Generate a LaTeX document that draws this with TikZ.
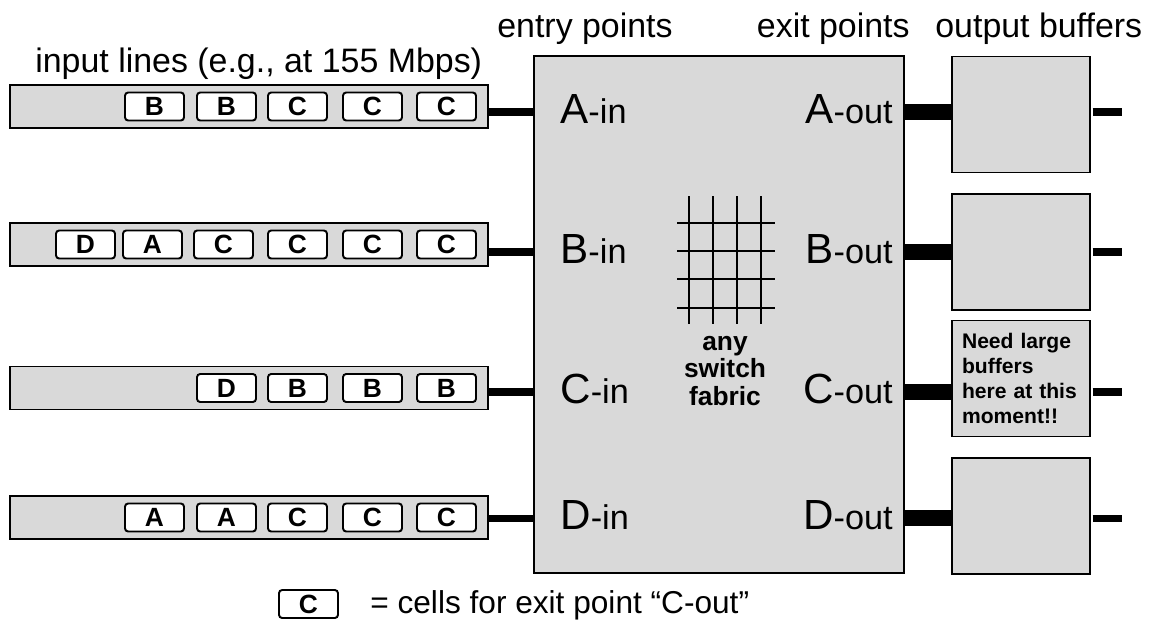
\documentclass[tikz,border=0pt]{standalone}
\usepackage{fontspec}
\setmainfont{Liberation Sans}
\definecolor{boxgray}{HTML}{D9D9D9}
\newcommand{\portname}[2]{{\fontsize{24}{24}\selectfont #1}{\fontsize{19.5}{19.5}\selectfont -#2}}
\tikzset{
  every picture/.style={line join=miter},
  linebar/.style={draw, line width=1pt, fill=boxgray, minimum width=9.56cm, minimum height=0.86cm, inner sep=0},
  cell/.style={draw, line width=1.1pt, fill=white, rounded corners=1.8pt, minimum width=1.18cm, minimum height=0.56cm, inner sep=0, font=\fontsize{15}{15}\selectfont\bfseries},
  outbuf/.style={draw, line width=1pt, fill=boxgray, minimum width=2.76cm, minimum height=2.32cm},
  heading/.style={anchor=base west, inner sep=0, font=\fontsize{19.3}{19.3}\selectfont},
  inport/.style={anchor=base west, inner sep=0},
  outport/.style={anchor=base east, inner sep=0},
  instub/.style={line width=4pt},
  outstub/.style={line width=9pt},
  gridline/.style={line width=1.2pt},
}

\begin{document}
\begin{tikzpicture}[x=0.02cm,y=-0.02cm]
\useasboundingbox (0,0) rectangle (1155,623);
% headings
\node[heading] (hdinput) at (35,72) {input lines (e.g., at 155 Mbps)};
\node[heading] (hdentry) at (497,37) {entry points};
\node[heading, anchor=base east] (hdexit) at (910,37) {exit points};
\node[heading] (hdoutput) at (935,37) {output buffers};
% row levels
\coordinate (rowA) at (0,112);
\coordinate (rowB) at (0,252);
\coordinate (rowC) at (0,392);
\coordinate (rowD) at (0,518);
% input lines
\node[linebar] (inA) at (249,106.5) {};
\node[linebar] (inB) at (249,244.5) {};
\node[linebar] (inC) at (249,388) {};
\node[linebar] (inD) at (249,517.5) {};
\foreach \x/\t [count=\i] in {125/B,197/B,268/C,343/C,417/C}
  \node[cell] (cA\i) at (\x+29.5,106.5) {\t};
\foreach \x/\t [count=\i] in {56/D,123/A,194/C,268/C,343/C,417/C}
  \node[cell] (cB\i) at (\x+29.5,244.5) {\t};
\foreach \x/\t [count=\i] in {197/D,268/B,343/B,417/B}
  \node[cell] (cC\i) at (\x+29.5,388) {\t};
\foreach \x/\t [count=\i] in {125/A,197/A,268/C,343/C,417/C}
  \node[cell] (cD\i) at (\x+29.5,517.5) {\t};
% switch fabric
\node[draw, line width=1pt, fill=boxgray, minimum width=7.4cm, minimum height=10.34cm] (fabric) at (719,314.5) {};
\foreach \x in {689,713,737,761}
  \draw[gridline] (\x,196) -- (\x,324);
\foreach \y in {223,251,279,308}
  \draw[gridline] (677,\y) -- (775,\y);
\node[align=center, font=\fontsize{15}{15.9}\selectfont\bfseries] (fabtext) at (725,371) {any\\switch\\fabric};
% output buffers
\node[outbuf] (bufA) at (1021,114.5) {};
\node[outbuf] (bufB) at (1021,252) {};
\node[outbuf, text width=2.36cm, inner sep=0.2cm, align=left, font=\fontsize{12}{14.2}\selectfont\bfseries] (bufC) at (1021,378.5) {Need large\\buffers\\here at this\\moment!!};
\node[outbuf] (bufD) at (1021,516) {};
\coordinate (endA) at (1122,112);
\coordinate (endB) at (1122,252);
\coordinate (endC) at (1122,392);
\coordinate (endD) at (1122,518);
% stubs
\draw[instub] (inA.east |- rowA) -- (fabric.west |- rowA);
\draw[instub] (inB.east |- rowB) -- (fabric.west |- rowB);
\draw[instub] (inC.east |- rowC) -- (fabric.west |- rowC);
\draw[instub] (inD.east |- rowD) -- (fabric.west |- rowD);
\draw[outstub] (fabric.east |- rowA) -- (bufA.west |- rowA);
\draw[outstub] (fabric.east |- rowB) -- (bufB.west |- rowB);
\draw[outstub] (fabric.east |- rowC) -- (bufC.west |- rowC);
\draw[outstub] (fabric.east |- rowD) -- (bufD.west |- rowD);
\draw[instub, shorten <=1pt] (bufA.east |- rowA) -- (endA);
\draw[instub, shorten <=1pt] (bufB.east |- rowB) -- (endB);
\draw[instub, shorten <=1pt] (bufC.east |- rowC) -- (endC);
\draw[instub, shorten <=1pt] (bufD.east |- rowD) -- (endD);
% port labels
\node[inport] (labAin) at (560,123) {\portname{A}{in}};
\node[inport] (labBin) at (560,263) {\portname{B}{in}};
\node[inport] (labCin) at (560,403) {\portname{C}{in}};
\node[inport] (labDin) at (560,529) {\portname{D}{in}};
\node[outport] (labAout) at (893,123) {\portname{A}{out}};
\node[outport] (labBout) at (893,263) {\portname{B}{out}};
\node[outport] (labCout) at (893,403) {\portname{C}{out}};
\node[outport] (labDout) at (893,529) {\portname{D}{out}};
% key
\node[cell] (keycell) at (308.5,604) {C};
\node[anchor=base west, inner sep=0, font=\fontsize{18}{18}\selectfont] (keytext) at (370,613) {= cells for exit point “C-out”};
\end{tikzpicture}
\end{document}
